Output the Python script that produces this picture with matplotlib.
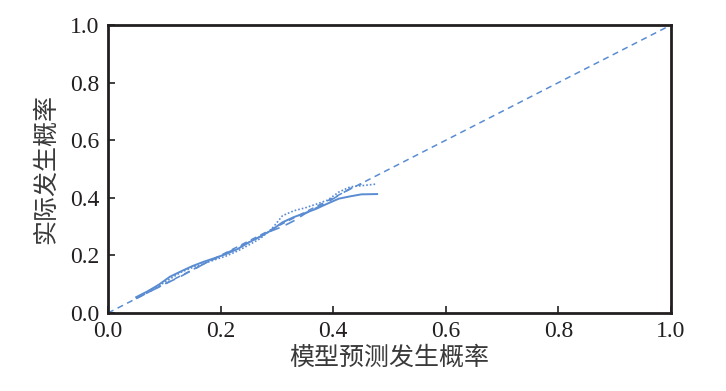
import numpy as np
import matplotlib
matplotlib.use('Agg')
import matplotlib.pyplot as plt

plt.rcParams['font.family'] = ['Liberation Serif', 'Noto Sans CJK SC']

# calibration curves
x_solid = [0.05, 0.07, 0.09, 0.11, 0.13, 0.15, 0.17, 0.19, 0.21, 0.23, 0.25,
           0.27, 0.29, 0.31, 0.33, 0.35, 0.37, 0.39, 0.41, 0.43, 0.45, 0.478]
y_solid = [0.055, 0.075, 0.098, 0.126, 0.145, 0.163, 0.178, 0.191, 0.205, 0.222, 0.245,
           0.265, 0.287, 0.315, 0.333, 0.347, 0.362, 0.380, 0.397, 0.405, 0.412, 0.413]

x_dot = [0.05, 0.07, 0.09, 0.11, 0.13, 0.15, 0.17, 0.19, 0.21, 0.23, 0.25,
         0.27, 0.29, 0.31, 0.33, 0.35, 0.37, 0.39, 0.41, 0.43, 0.45, 0.478]
y_dot = [0.052, 0.072, 0.094, 0.118, 0.142, 0.158, 0.172, 0.185, 0.198, 0.215, 0.236,
         0.258, 0.290, 0.338, 0.355, 0.365, 0.378, 0.392, 0.420, 0.438, 0.442, 0.448]

x_dash = [0.05, 0.09, 0.13, 0.17, 0.21, 0.25, 0.29, 0.31, 0.33, 0.35, 0.39, 0.43, 0.45]
y_dash = [0.050, 0.090, 0.128, 0.170, 0.208, 0.245, 0.285, 0.300, 0.320, 0.345, 0.385, 0.432, 0.448]

ref_x = [0.0, 1.0]
ref_y = [0.0, 1.0]

blue = '#5a8cd2'
dark = '#231f20'

fig = plt.figure(figsize=(7.26, 3.91), dpi=100)
ax = fig.add_axes([0.1488, 0.1995, 0.7754, 0.7365])

ax.plot(ref_x, ref_y, color=blue, lw=1.1, ls=(0, (4, 3)))
ax.plot(x_dash, y_dash, color=blue, lw=1.2, ls=(0, (6, 4)))
ax.plot(x_dot, y_dot, color=blue, lw=1.2, ls=(0, (1, 1.2)))
ax.plot(x_solid, y_solid, color=blue, lw=1.4)

ax.set_xlim(0, 1)
ax.set_ylim(0, 1)
ticks = np.arange(0, 1.01, 0.2)
ax.set_xticks(ticks)
ax.set_yticks(ticks)
ax.set_xticklabels(['%.1f' % t for t in ticks])
ax.set_yticklabels(['%.1f' % t for t in ticks])
ax.tick_params(direction='in', length=5, width=1.2, colors=dark, labelsize=17, pad=6)
for s in ax.spines.values():
    s.set_linewidth(2)
    s.set_color(dark)

ax.set_xlabel('模型预测发生概率', fontsize=18, color='#3a3a3a',
              family=['Noto Sans CJK SC'], labelpad=2)
ax.set_ylabel('实际发生概率', fontsize=18, color='#3a3a3a',
              family=['Noto Sans CJK SC'], labelpad=8)

fig.savefig('out.png', dpi=100)
